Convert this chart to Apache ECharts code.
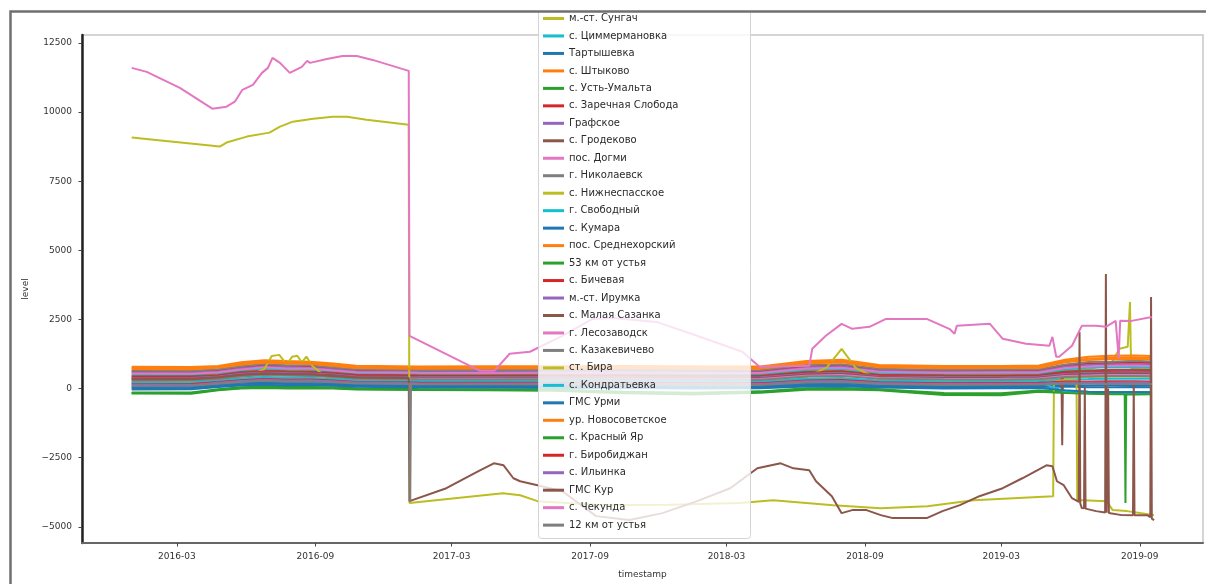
<!DOCTYPE html>
<html>
<head>
<meta charset="utf-8">
<script src="https://cdn.jsdelivr.net/npm/echarts@6/dist/echarts.min.js"></script>
<style>
  html, body { margin: 0; padding: 0; background: #ffffff; }
  #chart { width: 1206px; height: 584px; }
</style>
</head>
<body>
<div id="chart"></div>
<script>
// ---- axis ticks ----
const TICK_DATES  = ['2016-03-01', '2016-09-01', '2017-03-01', '2017-09-01', '2018-03-01', '2018-09-01', '2019-03-01', '2019-09-01'];
const TICK_LABELS = ['2016-03', '2016-09', '2017-03', '2017-09', '2018-03', '2018-09', '2019-03', '2019-09'];
const Y_TICKS = [-5000, -2500, 0, 2500, 5000, 7500, 10000, 12500];

// ---- stations (legend order) ----
const STATIONS = [
  'м.-ст. Сунгач', 'с. Циммермановка', 'Тартышевка', 'с. Штыково', 'с. Усть-Умальта',
  'с. Заречная Слобода', 'Графское', 'с. Гродеково', 'пос. Догми', 'г. Николаевск',
  'с. Нижнеспасское', 'г. Свободный', 'с. Кумара', 'пос. Среднехорский', '53 км от устья',
  'с. Бичевая', 'м.-ст. Ирумка', 'с. Малая Сазанка', 'г. Лесозаводск', 'с. Казакевичево',
  'ст. Бира', 'с. Кондратьевка', 'ГМС Урми', 'ур. Новосоветское', 'с. Красный Яр',
  'г. Биробиджан', 'с. Ильинка', 'ГМС Кур', 'с. Чекунда', '12 км от устья'
];
const PALETTE = ['#1f77b4', '#ff7f0e', '#2ca02c', '#d62728', '#9467bd', '#8c564b', '#e377c2', '#7f7f7f', '#bcbd22', '#17becf'];

// ---- common sampling dates of the regular stations ----
const BAND_DATES = [
  '2016-01-01', '2016-03-20', '2016-04-25', '2016-05-25', '2016-06-25', '2016-07-25', '2016-08-25',
  '2016-09-25', '2016-10-25', '2017-01-15', '2017-04-15', '2017-07-15', '2017-10-15', '2018-01-15',
  '2018-04-15', '2018-06-15', '2018-08-01', '2018-09-20', '2018-12-15', '2019-03-01', '2019-04-20',
  '2019-05-25', '2019-06-25', '2019-07-25', '2019-08-25', '2019-09-17'
];

// ---- level values ----
const sungachDates = BAND_DATES.slice(0, 24).concat(['2019-08-05', '2019-08-16', '2019-08-18', '2019-08-19', '2019-08-20', '2019-08-21', '2019-09-17']);
const sungach = [470, 475, 520, 628, 680, 660, 645, 595, 524, 508, 500, 508, 506, 495, 490, 642, 672, 538, 502, 508, 512, 650, 700, 900, 1441, 1513, 1513, 3130, 1480, 720, 715];
const tsimmermanovka = [510, 505, 560, 660, 725, 692, 690, 625, 562, 538, 540, 542, 546, 525, 530, 684, 715, 574, 538, 544, 550, 690, 752, 770, 778, 765];
const tartyshevka = [15, 20, 96, 162, 186, 170, 170, 150, 108, 84, 80, 70, 66, 50, 55, 128, 140, 88, 52, 58, 62, 75, 50, 52, 55, 48];
const shtykovo = [790, 785, 815, 955, 1030, 995, 975, 905, 825, 800, 805, 810, 815, 805, 800, 995, 1045, 855, 820, 815, 835, 1040, 1150, 1185, 1195, 1180];
const ustUmalta = [-140, -138, -20, 50, 75, 55, 62, 48, 10, -15, -25, -35, -110, -150, -100, 10, 20, -20, -160, -170, -70, -100, -120, -125, -130, -128];
const zarechnaya = [615, 620, 655, 780, 838, 818, 795, 738, 662, 636, 642, 648, 655, 630, 638, 800, 850, 676, 652, 645, 662, 835, 900, 930, 940, 925];
const grafskoe = [580, 585, 620, 740, 798, 780, 758, 702, 625, 610, 602, 614, 612, 600, 595, 768, 800, 645, 610, 618, 620, 790, 850, 880, 885, 870];
const grodekovo = [445, 448, 495, 600, 650, 630, 615, 570, 498, 484, 475, 482, 480, 468, 462, 612, 640, 505, 480, 474, 490, 615, 655, 680, 684, 672];
const dogmi = [545, 540, 595, 695, 768, 730, 728, 658, 590, 575, 568, 578, 582, 560, 565, 725, 758, 610, 575, 580, 585, 745, 800, 825, 832, 818];
const nikolaevsk = [655, 650, 700, 805, 890, 845, 842, 760, 698, 670, 678, 676, 690, 665, 672, 850, 885, 718, 680, 690, 698, 870, 960, 975, 1005, 978];
const nizhnespasskoeDates = [
  '2016-01-01', '2016-03-20', '2016-05-01', '2016-06-05', '2016-06-25', '2016-07-05', '2016-07-15', '2016-07-25',
  '2016-08-01', '2016-08-08', '2016-08-14', '2016-08-20', '2016-08-28', '2016-09-15', '2016-10-25', '2017-01-15',
  '2017-04-15', '2017-07-15', '2017-10-15', '2018-01-15', '2018-04-15', '2018-06-15', '2018-07-12', '2018-08-01',
  '2018-08-20', '2018-09-20', '2018-12-15', '2019-03-01', '2019-04-20', '2019-05-25', '2019-06-25', '2019-07-25',
  '2019-08-25', '2019-09-17'
];
const nizhnespasskoe = [230, 235, 340, 470, 700, 1180, 1220, 880, 1150, 1190, 950, 1160, 820, 420, 330, 310, 300, 305, 298, 285, 290, 420, 760, 1440, 740, 330, 295, 300, 310, 400, 420, 430, 440, 432];
const svobodny = [228, 224, 295, 370, 418, 390, 394, 350, 300, 278, 275, 268, 270, 255, 252, 365, 385, 295, 260, 265, 270, 340, 348, 358, 360, 352];
const kumara = [60, 64, 138, 208, 236, 218, 222, 194, 150, 126, 122, 112, 110, 95, 98, 178, 192, 132, 98, 102, 112, 128, 115, 118, 122, 114];
const srednekhorsky = [745, 740, 785, 900, 985, 945, 940, 850, 780, 755, 762, 770, 772, 760, 750, 955, 990, 810, 772, 780, 782, 1000, 1080, 1120, 1125, 1110];
const km53 = [-160, -162, -45, 25, 45, 28, 35, 25, -12, -32, -40, -58, -140, -180, -125, -15, -5, -40, -200, -205, -95, -130, -155, -160, -165, -162];
const bichevaya = [410, 405, 465, 555, 618, 585, 584, 528, 470, 445, 446, 442, 448, 432, 428, 570, 598, 475, 440, 445, 450, 570, 605, 625, 630, 618];
const irumka = [378, 382, 440, 535, 580, 562, 550, 506, 440, 424, 416, 420, 418, 405, 408, 535, 572, 442, 418, 412, 428, 530, 574, 580, 596, 580];
const malayaSazankaDates = BAND_DATES.slice(0, 21).concat(['2019-05-20', '2019-05-21', '2019-05-22']).concat(BAND_DATES.slice(21));
const malayaSazanka = [352, 355, 410, 505, 552, 532, 522, 480, 415, 398, 390, 394, 392, 380, 376, 508, 534, 420, 386, 390, 400, 470, -2050, 475, 500, 530, 545, 550, 540];
const lesozavodsk = [318, 315, 380, 462, 518, 488, 490, 440, 385, 360, 360, 355, 360, 340, 345, 468, 490, 385, 350, 355, 365, 455, 476, 490, 495, 486];
const kazakevichevo = [288, 292, 350, 442, 484, 462, 455, 418, 356, 340, 330, 334, 328, 318, 314, 438, 460, 352, 326, 322, 338, 420, 440, 452, 455, 448];
const biraDates = [
  '2016-01-01', '2016-04-27', '2016-05-06', '2016-06-02', '2016-07-02', '2016-07-16', '2016-08-02', '2016-08-29',
  '2016-09-24', '2016-10-13', '2016-11-08', '2017-01-03', '2017-01-04', '2017-05-08', '2017-05-31', '2017-06-23',
  '2017-09-15', '2017-12-15', '2018-03-19', '2018-05-02', '2018-07-21', '2018-09-22', '2018-11-23', '2019-01-23',
  '2019-05-09', '2019-05-10', '2019-05-25', '2019-06-09', '2019-06-10', '2019-07-19', '2019-07-27', '2019-08-15',
  '2019-09-01', '2019-09-20'
];
const bira = [9077, 8753, 8897, 9113, 9257, 9473, 9653, 9761, 9833, 9833, 9725, 9545, -4140, -3782, -3854, -4070, -4210, -4200, -4140, -4034, -4214, -4322, -4250, -4034, -3890, 250, 320, 300, -4030, -4070, -4394, -4430, -4500, -4575];
const kondratyevka = [200, 198, 270, 345, 390, 360, 365, 325, 276, 255, 246, 248, 240, 230, 226, 335, 352, 268, 232, 238, 240, -110, -165, -175, -160, -168];
const urmi = [-30, -26, 56, 110, 142, 116, 128, 105, 66, 42, 38, 25, 20, 6, 10, 75, 85, 42, 8, 12, 22, -60, -118, -132, -122, -128];
const novosovetskoe = [710, 702, 750, 860, 945, 905, 900, 815, 748, 720, 728, 735, 738, 725, 718, 910, 950, 772, 735, 742, 746, 955, 1030, 1065, 1070, 1062];
const krasnyYarDates = BAND_DATES.slice(0, 24).concat(['2019-08-12', '2019-08-13', '2019-08-14']).concat(BAND_DATES.slice(24));
const krasnyYar = [-180, -182, -62, 2, 22, 4, 12, 2, -30, -52, -62, -80, -172, -212, -150, -38, -28, -62, -230, -238, -118, -160, -188, -200, -205, -4140, -205, -210, -200];
const birobidzhan = [160, 165, 235, 305, 350, 322, 328, 290, 242, 218, 216, 208, 210, 190, 195, 292, 310, 232, 196, 202, 208, 260, 255, 265, 270, 258];
const ilyinka = [136, 132, 210, 278, 320, 292, 298, 262, 218, 196, 186, 186, 178, 168, 164, 262, 278, 205, 170, 175, 180, 225, 218, 224, 230, 220];
const kurDates = [
  '2016-01-01', '2016-03-20', '2016-04-25', '2016-05-25', '2016-06-25', '2016-07-25', '2016-08-25', '2016-09-25',
  '2016-10-25', '2017-01-03', '2017-01-04', '2017-02-22', '2017-04-05', '2017-04-26', '2017-05-09', '2017-05-22',
  '2017-05-31', '2017-06-23', '2017-07-26', '2017-09-09', '2017-10-23', '2017-12-06', '2018-01-21', '2018-03-06',
  '2018-04-11', '2018-05-12', '2018-05-29', '2018-06-19', '2018-06-28', '2018-07-19', '2018-08-01', '2018-08-15',
  '2018-09-03', '2018-09-22', '2018-10-08', '2018-11-22', '2018-12-13', '2019-01-05', '2019-01-31', '2019-03-03',
  '2019-03-29', '2019-04-30', '2019-05-08', '2019-05-14', '2019-05-23', '2019-06-03', '2019-06-12', '2019-06-13',
  '2019-06-14', '2019-06-16', '2019-06-19', '2019-06-20', '2019-06-21', '2019-07-05', '2019-07-17', '2019-07-18',
  '2019-07-19', '2019-07-20', '2019-07-21', '2019-07-22', '2019-08-08', '2019-08-23', '2019-08-24', '2019-08-25',
  '2019-09-11', '2019-09-15', '2019-09-16', '2019-09-17', '2019-09-20'
];
const kur = [
  335, 338, 400, 490, 540, 515, 512, 460,
  400, 385, -4070, -3602, -2990, -2702, -2774, -3242,
  -3350, -3494, -3710, -4611, -4755, -4503, -4070, -3602,
  -2882, -2702, -2882, -2954, -3350, -3890, -4503, -4394,
  -4394, -4575, -4683, -4683, -4430, -4214, -3890, -3602,
  -3242, -2774, -2810, -3350, -3494, -3962, -4100, 2050,
  -4150, -4322, -4330, 50, -4340, -4430, -4480, 4140,
  -4490, -4490, 0, -4500, -4575, -4580, 200, -4580,
  -4575, -4650, 3310, -4700, -4755
];
const chekundaDates = [
  '2016-01-01', '2016-01-21', '2016-03-05', '2016-04-17', '2016-05-06', '2016-05-17', '2016-05-27', '2016-06-10',
  '2016-06-22', '2016-06-30', '2016-07-06', '2016-07-16', '2016-07-29', '2016-08-14', '2016-08-21', '2016-08-25',
  '2016-09-16', '2016-10-07', '2016-10-26', '2016-11-16', '2017-01-03', '2017-01-04', '2017-04-07', '2017-04-27',
  '2017-05-17', '2017-06-13', '2017-07-26', '2017-09-04', '2017-10-01', '2017-11-28', '2018-01-21', '2018-03-22',
  '2018-04-14', '2018-06-19', '2018-06-23', '2018-07-11', '2018-08-01', '2018-08-15', '2018-09-07', '2018-09-29',
  '2018-11-22', '2018-12-22', '2018-12-29', '2019-01-01', '2019-02-14', '2019-03-03', '2019-04-03', '2019-05-04',
  '2019-05-08', '2019-05-13', '2019-05-17', '2019-06-03', '2019-06-16', '2019-07-05', '2019-07-18', '2019-07-31',
  '2019-08-04', '2019-08-06', '2019-08-21', '2019-09-17'
];
const chekunda = [
  11598, 11454, 10878, 10122, 10194, 10374, 10806, 10986,
  11418, 11598, 11958, 11778, 11418, 11634, 11850, 11778,
  11922, 12030, 12030, 11886, 11490, 1909, 648, 648,
  1261, 1333, 1909, 2521, 2557, 2413, 1909, 1333,
  792, 828, 1441, 1909, 2341, 2161, 2233, 2521,
  2521, 2161, 1981, 2269, 2341, 1801, 1621, 1549,
  1873, 1153, 1153, 1549, 2269, 2269, 2233, 2449,
  1100, 2450, 2449, 2593
];
const km12Dates = BAND_DATES.slice(0, 9).concat(['2017-01-04', '2017-01-05', '2017-01-06']).concat(BAND_DATES.slice(9));
const km12 = [98, 100, 175, 240, 280, 252, 260, 228, 184, 170, -4100, 165, 160, 155, 148, 146, 130, 134, 220, 235, 168, 135, 138, 148, 178, 172, 170, 176, 168];

// dates and values of each station, in legend order
const SERIES_DATES = [
  sungachDates, BAND_DATES, BAND_DATES, BAND_DATES, BAND_DATES,
  BAND_DATES, BAND_DATES, BAND_DATES, BAND_DATES, BAND_DATES,
  nizhnespasskoeDates, BAND_DATES, BAND_DATES, BAND_DATES, BAND_DATES,
  BAND_DATES, BAND_DATES, malayaSazankaDates, BAND_DATES, BAND_DATES,
  biraDates, BAND_DATES, BAND_DATES, BAND_DATES, krasnyYarDates,
  BAND_DATES, BAND_DATES, kurDates, chekundaDates, km12Dates
];
const SERIES_VALUES = [
  sungach, tsimmermanovka, tartyshevka, shtykovo, ustUmalta,
  zarechnaya, grafskoe, grodekovo, dogmi, nikolaevsk,
  nizhnespasskoe, svobodny, kumara, srednekhorsky, km53,
  bichevaya, irumka, malayaSazanka, lesozavodsk, kazakevichevo,
  bira, kondratyevka, urmi, novosovetskoe, krasnyYar,
  birobidzhan, ilyinka, kur, chekunda, km12
];

// 'YYYY-MM-DD' -> day number (days since 1970-01-01, UTC)
function day(s) {
  const p = s.split('-').map(Number);
  return Date.UTC(p[0], p[1] - 1, p[2]) / 86400000;
}
const TICK_DAYS = TICK_DATES.map(day);
const FONT = 'DejaVu Sans';

const series = STATIONS.map((name, i) => ({
  type: 'line',
  name: name,
  data: SERIES_DATES[i].map((d, j) => [day(d), SERIES_VALUES[i][j]]),
  showSymbol: false,
  symbol: 'none',
  color: PALETTE[(i + 8) % 10],
  lineStyle: { width: 2 },
  z: 2
}));

const chart = echarts.init(document.getElementById('chart'), null, { renderer: 'canvas' });
chart.setOption({
  animation: false,
  backgroundColor: '#ffffff',
  grid: {
    left: 82, right: 3, top: 35, bottom: 39,
    show: true, borderColor: '#c8c8c8', borderWidth: 1.5, backgroundColor: 'transparent'
  },
  xAxis: {
    type: 'value',
    min: day('2015-10-27'),
    max: day('2019-11-24'),
    name: 'timestamp',
    nameLocation: 'middle',
    nameGap: 27,
    nameTextStyle: { fontFamily: FONT, fontSize: 9, color: '#333' },
    axisLine: { show: true, onZero: false, lineStyle: { color: '#666', width: 2 } },
    axisTick: { show: true, inside: false, length: 3.5, customValues: TICK_DAYS, lineStyle: { color: '#444', width: 1 } },
    axisLabel: {
      customValues: TICK_DAYS,
      margin: 9,
      fontFamily: FONT, fontSize: 9, color: '#333',
      formatter: (v) => { const k = TICK_DAYS.indexOf(v); return k >= 0 ? TICK_LABELS[k] : ''; }
    },
    splitLine: { show: false }
  },
  yAxis: {
    type: 'value',
    min: -5583,
    max: 12787,
    name: 'level',
    nameLocation: 'middle',
    nameGap: 43,
    nameTextStyle: { fontFamily: FONT, fontSize: 9, color: '#333' },
    axisLine: { show: true, onZero: false, lineStyle: { color: '#222', width: 2.5 } },
    axisTick: { show: true, inside: false, length: 3.5, customValues: Y_TICKS, lineStyle: { color: '#444', width: 1 } },
    axisLabel: {
      customValues: Y_TICKS,
      margin: 10,
      fontFamily: FONT, fontSize: 9, color: '#333',
      formatter: (v) => (v < 0 ? '\u2212' + Math.abs(v) : String(v))
    },
    splitLine: { show: false }
  },
  legend: {
    data: STATIONS,
    orient: 'vertical',
    left: 543,
    top: 13.5,
    padding: 0,
    icon: 'rect',
    itemWidth: 21,
    itemHeight: 3,
    itemGap: 7.47,
    selectedMode: false,
    textStyle: { fontFamily: FONT, fontSize: 10, lineHeight: 10, color: '#2a2a2a' }
  },
  graphic: [
    { type: 'rect', z: 3, silent: true,
      shape: { x: 538.5, y: -20, width: 212, height: 558.5, r: 3 },
      style: { fill: 'rgba(255,255,255,0.8)', stroke: '#d4d4d4', lineWidth: 1 } },
    { type: 'rect', z: 100, silent: true,
      shape: { x: 0, y: 0, width: 1206, height: 11 },
      style: { fill: '#ffffff' } },
    { type: 'polyline', z: 101, silent: true,
      shape: { points: [[10.5, 584], [10.5, 11.5], [1206, 11.5]] },
      style: { stroke: '#707070', lineWidth: 2.5, fill: 'none' } }
  ],
  series: series
});
</script>
</body>
</html>
